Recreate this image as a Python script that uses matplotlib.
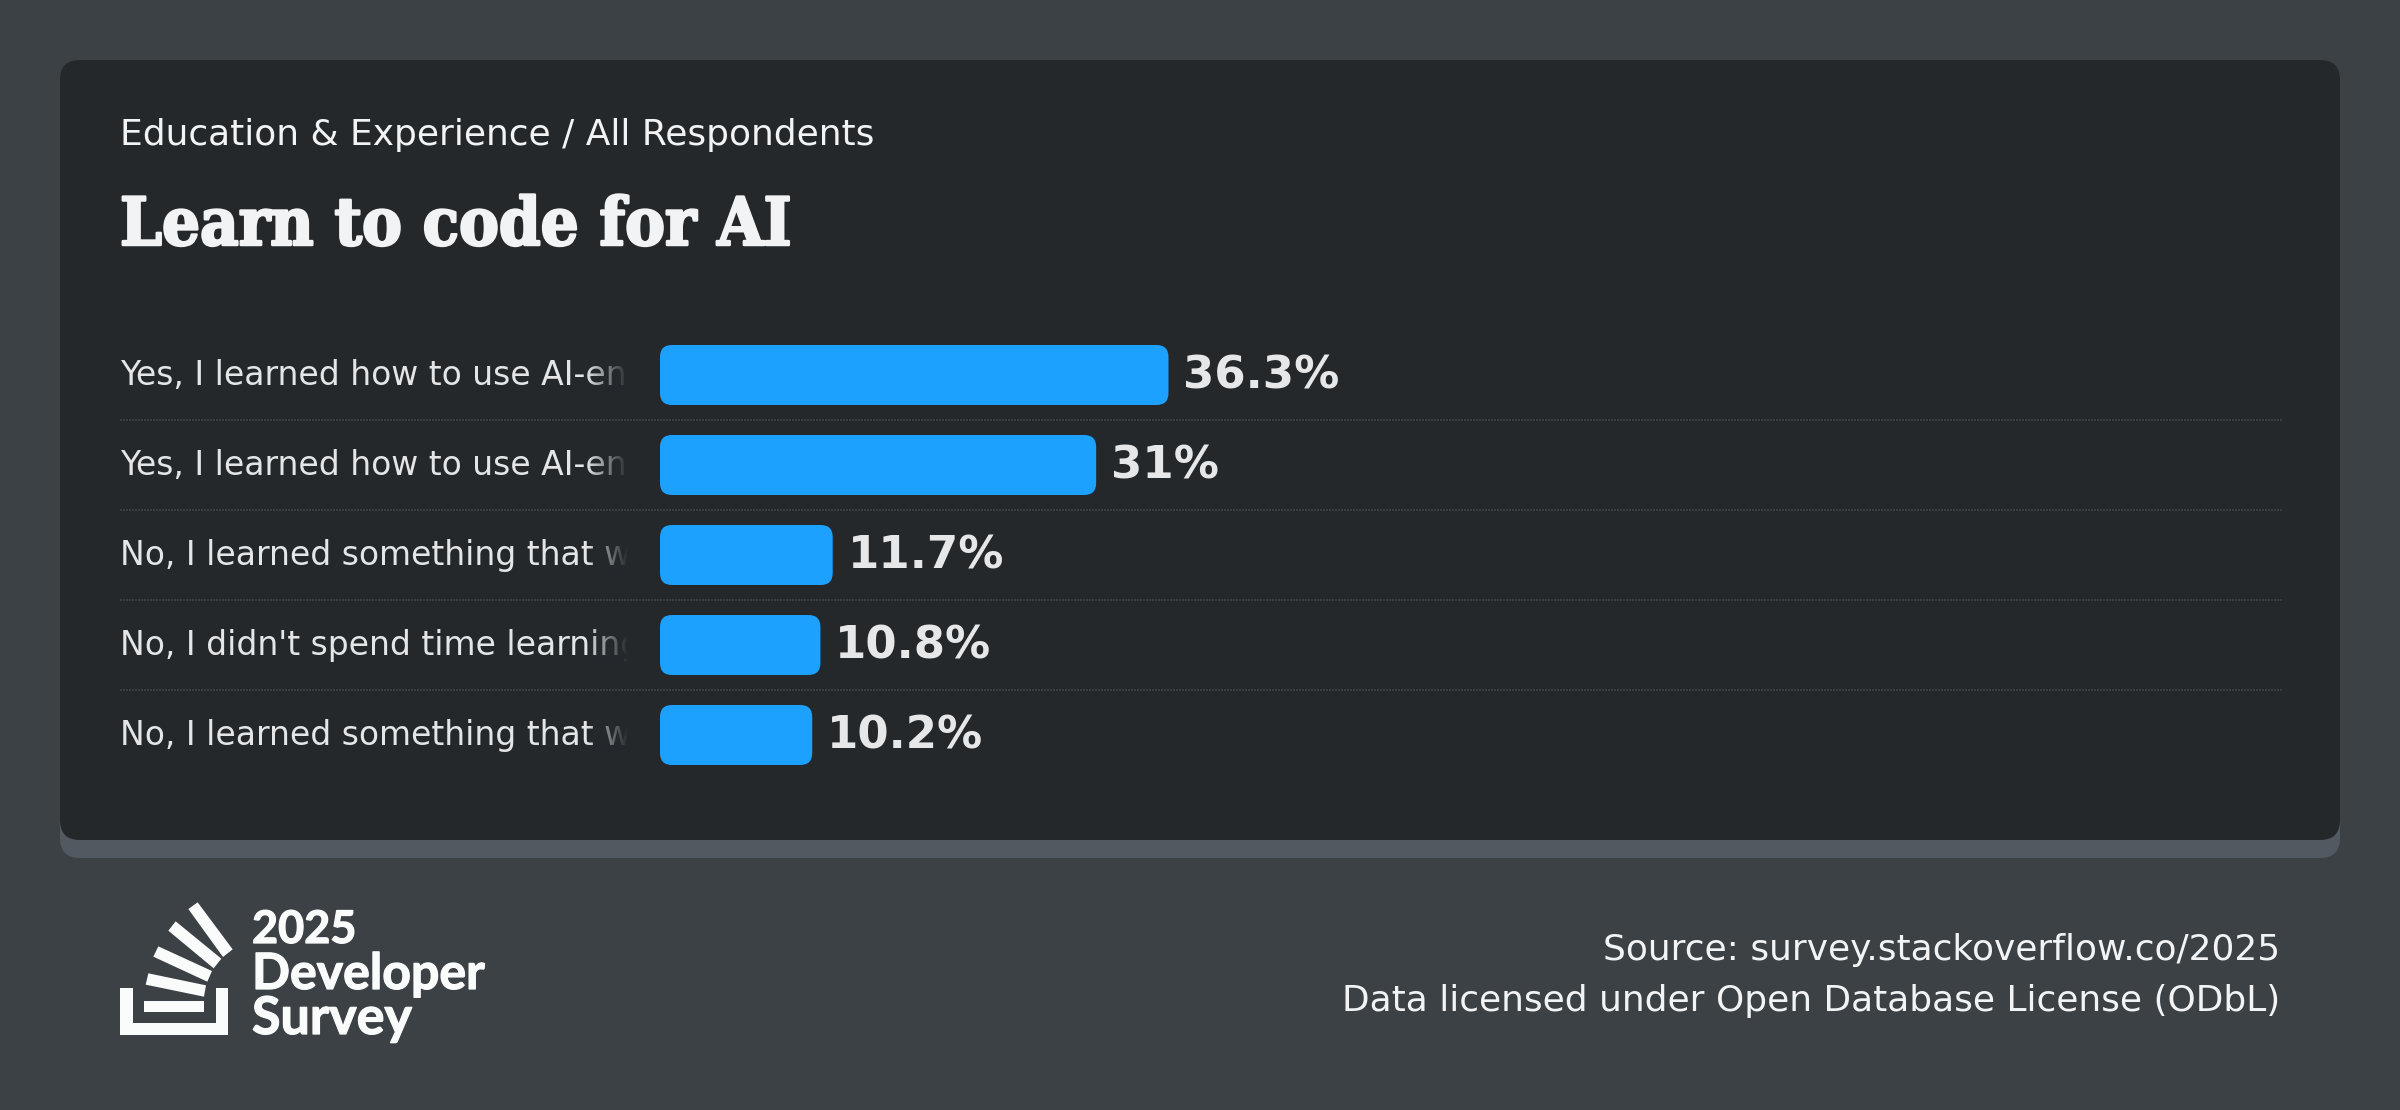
import numpy as np
import matplotlib
matplotlib.use('Agg')
import matplotlib.pyplot as plt
import matplotlib.patheffects as pe
from matplotlib.patches import FancyBboxPatch, Polygon, Rectangle
from matplotlib.transforms import Bbox

# data
labels = ['Yes, I learned how to use AI-en',
          'Yes, I learned how to use AI-en',
          'No, I learned something that w',
          "No, I didn't spend time learning",
          'No, I learned something that w']
values = [36.3, 31, 11.7, 10.8, 10.2]
value_labels = ['36.3%', '31%', '11.7%', '10.8%', '10.2%']
subtitle = 'Education & Experience / All Respondents'
title = 'Learn to code for AI'
source_lines = ['Source: survey.stackoverflow.co/2025',
                'Data licensed under Open Database License (ODbL)']
logo_lines = ['2025', 'Developer', 'Survey']

W, H = 2400, 1110
BG = '#3c4145'
CARD = '#24282b'
SHADOW = '#525960'
BAR = '#1ca1ff'
LINE = '#3a3e42'
TEXT = '#f2f3f4'
LOGO = '#fafbfb'


def px(size):
    # font size given in pixels of the output image
    return size * 72 / 100


fig = plt.figure(figsize=(W / 100, H / 100), dpi=100, facecolor=BG)

# page layer, in image pixels
page = fig.add_axes([0, 0, 1, 1], zorder=0)
page.set_xlim(0, W)
page.set_ylim(H, 0)
page.axis('off')

page.add_patch(FancyBboxPatch((60, 80), 2280, 778, boxstyle='round,pad=0,rounding_size=20',
                              fc=SHADOW, ec='none'))
page.add_patch(FancyBboxPatch((60, 60), 2280, 780, boxstyle='round,pad=0,rounding_size=20',
                              fc=CARD, ec='none'))

page.text(120, 145, subtitle, fontsize=px(36), color=TEXT, family='DejaVu Sans')
page.text(120, 245, title, fontsize=px(66.4), color=TEXT, family='DejaVu Serif', weight='bold',
          stretch='condensed', path_effects=[pe.withStroke(linewidth=1.8, foreground=TEXT)])

for i, line in enumerate(source_lines):
    page.text(2280, 960 + i * 51, line, fontsize=px(36), color=TEXT, ha='right',
              family='DejaVu Sans')

# logo
page.add_patch(Polygon([(120, 988), (133, 988), (133, 1023), (216, 1023), (216, 988),
                        (228, 988), (228, 1035), (120, 1035)], fc=LOGO, ec='none'))
page.add_patch(Rectangle((144, 1001), 60, 11, fc=LOGO, ec='none'))
sticks = [[(265, 340), (438, 376), (432, 410), (257, 374)],
          [(295, 259), (456, 333), (442, 365), (280, 290)],
          [(347, 184), (484, 296), (461, 325), (325, 212)],
          [(413, 127), (518, 268), (489, 291), (385, 147)]]
for stick in sticks:
    page.add_patch(Polygon([(60 + a / 3, 860 + b / 3) for a, b in stick], fc=LOGO, ec='none'))
for line, base, size in zip(logo_lines, [943, 989, 1034], [45, 50, 52]):
    page.text(252, base, line, fontsize=px(size), color=LOGO, family='Lato', weight='bold',
              path_effects=[pe.withStroke(linewidth=0.9, foreground=LOGO)])

# bars, zero sits 13 px right of the bar start
x_per = 13.65
zero = 673
row_h = 90
ax = fig.add_axes([120 / W, 1 - 780 / H, 2162 / W, 450 / H], zorder=1)
ax.patch.set_alpha(0)
ax.set_xlim((120 - zero) / x_per, (2282 - zero) / x_per)
ax.set_ylim(len(values) - 0.5, -0.5)
ax.axis('off')
bar_start = -13 / x_per

for i, (lab, val, vl) in enumerate(zip(labels, values, value_labels)):
    ax.add_patch(FancyBboxPatch((bar_start, i - 1 / 3), val - bar_start, 2 / 3,
                                boxstyle='round,pad=0,rounding_size=%f' % (12 / x_per),
                                mutation_aspect=x_per / row_h, fc=BAR, ec='none'))
    ax.text(val + 15 / x_per, i + 0.01, vl, fontsize=px(45), weight='bold', color='#e6e7e8',
            va='center', family='DejaVu Sans')
    t = ax.text(0, i + 0.01, lab, fontsize=px(33), color='#e3e5e6', va='center',
                transform=ax.get_yaxis_transform(), family='DejaVu Sans')
    t.set_clip_box(Bbox([[120, 0], [628, H]]))
    t.set_clip_on(True)
    if i < len(values) - 1:
        ax.axhline(i + 0.5, color=LINE, lw=1.44, ls=(0, (1, 0.5)))

# label fade at the right end of each row
top = fig.add_axes([0, 0, 1, 1], zorder=2)
top.patch.set_alpha(0)
top.axis('off')
grad = np.zeros((1, 64, 4))
grad[..., :3] = matplotlib.colors.to_rgb(CARD)
grad[..., 3] = np.linspace(0, 1, 64)
for i in range(len(values)):
    yc = 375 + i * row_h
    top.imshow(grad, extent=(586, 628, yc + 28, yc - 28), aspect='auto', interpolation='bilinear')
top.set_xlim(0, W)
top.set_ylim(H, 0)

fig.savefig('out.png', dpi=100, facecolor=BG)
